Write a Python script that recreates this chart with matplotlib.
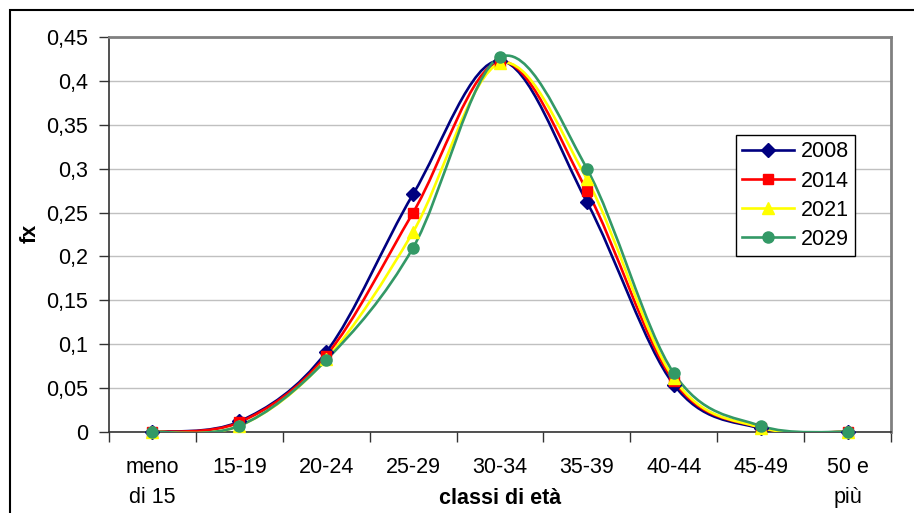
import numpy as np
import matplotlib.pyplot as plt
from matplotlib.path import Path
from matplotlib.patches import PathPatch, Rectangle
from matplotlib.lines import Line2D

plt.rcParams['font.family'] = ['Liberation Sans', 'DejaVu Sans']

categories = ["meno\ndi 15", "15-19", "20-24", "25-29", "30-34", "35-39",
              "40-44", "45-49", "50 e\npiù"]
y2008 = [0, 0.012, 0.091, 0.271, 0.423, 0.262, 0.054, 0.004, 0]
y2014 = [0, 0.011, 0.087, 0.250, 0.422, 0.275, 0.058, 0.005, 0]
y2021 = [0, 0.007, 0.083, 0.228, 0.420, 0.288, 0.061, 0.005, 0]
y2029 = [0, 0.007, 0.082, 0.210, 0.427, 0.300, 0.067, 0.007, 0]
years = ["2008", "2014", "2021", "2029"]
yticks = [0, 0.05, 0.1, 0.15, 0.2, 0.25, 0.3, 0.35, 0.4, 0.45]

series = [y2008, y2014, y2021, y2029]
colors = ["#000080", "#ff0000", "#ffff00", "#339966"]
markers = ["D", "s", "^", "o"]
msizes = [7, 7, 8, 8]
fs = 15.5


def smooth_path(xs, ys):
    # Excel-like smoothed line: bezier segments with control points from neighbours
    pts = np.column_stack([xs, ys]).astype(float)
    n = len(pts)
    verts = [pts[0]]
    codes = [Path.MOVETO]
    for i in range(n - 1):
        p0 = pts[i - 1] if i > 0 else pts[i]
        p1 = pts[i]
        p2 = pts[i + 1]
        p3 = pts[i + 2] if i + 2 < n else pts[i + 1]
        c1 = p1 + (p2 - p0) / 6
        c2 = p2 - (p3 - p1) / 6
        verts += [c1, c2, p2]
        codes += [Path.CURVE4] * 3
    return Path(verts, codes)


fig = plt.figure(figsize=(9.14, 5.13), dpi=100)
ax = fig.add_axes([109 / 914, 1 - 432 / 513, 782 / 914, 395 / 513])

# outer chart border
fig.patches.append(Rectangle((10 / 914, -0.1), 1.2, (503 / 513) + 0.1, transform=fig.transFigure,
                             fill=False, edgecolor="black", linewidth=1.5))

x = np.arange(len(categories))
for ys, c, m, ms in zip(series, colors, markers, msizes):
    patch = PathPatch(smooth_path(x, ys), fill=False, edgecolor=c, linewidth=1.9, zorder=3)
    ax.add_patch(patch)
    ax.plot(x, ys, linestyle="none", marker=m, color=c, markersize=ms, zorder=4, clip_on=False)

ax.set_xlim(-0.5, len(categories) - 0.5)
ax.set_ylim(0, 0.45)
ax.set_yticks(yticks)
ax.set_yticklabels([("%g" % v).replace(".", ",") for v in yticks])
ax.set_xticks(x)
ax.set_xticklabels(categories, linespacing=1.55, va="top")
ax.set_xticks(np.arange(len(categories) + 1) - 0.5, minor=True)
ax.tick_params(axis="x", which="major", length=0, pad=18, labelsize=fs)
ax.tick_params(axis="x", which="minor", length=7, width=1, direction="out", color="#333333")
ax.tick_params(axis="y", length=7, width=1, direction="out", color="#333333", labelsize=fs, pad=8)

ax.grid(axis="y", color="#c0c0c0", linewidth=1)
ax.set_axisbelow(True)
for s in ["top", "right"]:
    ax.spines[s].set_color("#808080")
    ax.spines[s].set_linewidth(2)
for s in ["left", "bottom"]:
    ax.spines[s].set_color("#333333")
    ax.spines[s].set_linewidth(1.2)

fig.text(30 / 914, 1 - 233 / 513, "fx", fontsize=fs, fontweight="bold",
         rotation=90, ha="center", va="center")
fig.text(500 / 914, 1 - 498 / 513, "classi di età", fontsize=fs, fontweight="bold",
         ha="center", va="center")

handles = [Line2D([], [], color=c, marker=m, markersize=ms, linewidth=1.9)
           for c, m, ms in zip(colors, markers, msizes)]
leg = ax.legend(handles, years, loc="upper left", bbox_to_anchor=(736 / 914, 1 - 135 / 513),
                bbox_transform=fig.transFigure, fontsize=fs, frameon=True, fancybox=False,
                edgecolor="black", framealpha=1, handlelength=2.4, handletextpad=0.3,
                labelspacing=0.38, borderpad=0.3, borderaxespad=0)
leg.get_frame().set_linewidth(1)

fig.savefig("out.png", dpi=100)
